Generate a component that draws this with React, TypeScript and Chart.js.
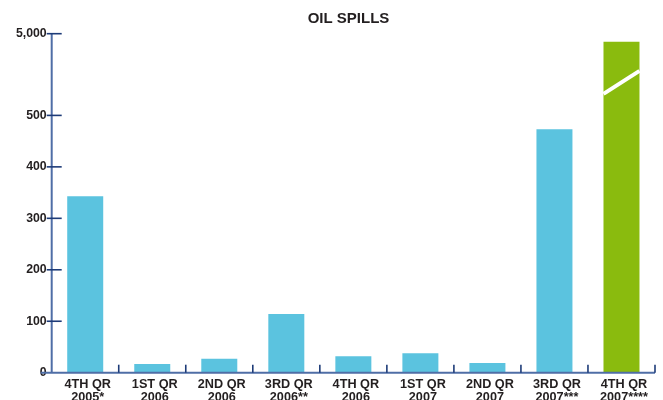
import React, { useEffect, useRef } from "react";
import { Chart, registerables, LinearScale } from "chart.js";

Chart.register(...registerables);

// ---- data ----
const CATEGORIES: string[][] = [
  ["4TH QR", "2005*"],
  ["1ST QR", "2006"],
  ["2ND QR", "2006"],
  ["3RD QR", "2006**"],
  ["4TH QR", "2006"],
  ["1ST QR", "2007"],
  ["2ND QR", "2007"],
  ["3RD QR", "2007***"],
  ["4TH QR", "2007****"],
];
const SPILLS: number[] = [343, 17, 27, 114, 32, 38, 19, 473, 4550];
const Y_TICKS: number[] = [0, 100, 200, 300, 400, 500, 5000];
const TITLE = "OIL SPILLS";

// broken axis configuration
const BREAK_VALUE = 500;
const MAX_VALUE = 5000;
const LOWER_FRACTION = 0.759;

const AXIS_COLOR = "#4f6ea6";
const TICK_COLOR = "#1d3b78";
const TEXT_COLOR = "#231f20";
const BAR_COLOR = "#5bc3df";
const HIGHLIGHT_COLOR = "#8abb0e";
const FONT = "'Liberation Sans', Arial, sans-serif";

class BrokenLinearScale extends LinearScale {
  static id = "brokenLinear";
  static defaults = LinearScale.defaults;

  buildTicks() {
    return Y_TICKS.map((value) => ({ value }));
  }

  getPixelForValue(value: number) {
    const v = +value;
    const frac =
      v <= BREAK_VALUE
        ? (v / BREAK_VALUE) * LOWER_FRACTION
        : LOWER_FRACTION +
          ((v - BREAK_VALUE) / (MAX_VALUE - BREAK_VALUE)) * (1 - LOWER_FRACTION);
    return (this as any).getPixelForDecimal(frac);
  }

  getValueForPixel(pixel: number) {
    const d = (this as any).getDecimalForPixel(pixel);
    if (d <= LOWER_FRACTION) return (d / LOWER_FRACTION) * BREAK_VALUE;
    return (
      BREAK_VALUE +
      ((d - LOWER_FRACTION) / (1 - LOWER_FRACTION)) * (MAX_VALUE - BREAK_VALUE)
    );
  }
}
Chart.register(BrokenLinearScale as any);

const decorPlugin = {
  id: "decor",
  afterDatasetsDraw(chart: any) {
    const { ctx, chartArea, scales } = chart;
    const x = scales.x;
    const y = scales.y;
    ctx.save();

    // break mark on the tall bar
    const meta = chart.getDatasetMeta(0);
    const last = meta.data[meta.data.length - 1];
    if (last) {
      const half = last.width / 2;
      ctx.strokeStyle = "#ffffff";
      ctx.lineWidth = 4;
      ctx.beginPath();
      ctx.moveTo(last.x - half, last.y + 52);
      ctx.lineTo(last.x + half, last.y + 29);
      ctx.stroke();
    }

    // axes
    ctx.strokeStyle = AXIS_COLOR;
    ctx.lineWidth = 2;
    ctx.beginPath();
    ctx.moveTo(chartArea.left, y.getPixelForValue(MAX_VALUE) - 0.5);
    ctx.lineTo(chartArea.left, chartArea.bottom);
    ctx.stroke();
    ctx.beginPath();
    ctx.moveTo(chartArea.left - 11, chartArea.bottom);
    ctx.lineTo(chartArea.right, chartArea.bottom);
    ctx.stroke();

    // y ticks
    ctx.strokeStyle = TICK_COLOR;
    ctx.lineWidth = 1.6;
    y.ticks.forEach((t: any, i: number) => {
      if (t.value === 0) return;
      const py = y.getPixelForTick(i);
      ctx.beginPath();
      ctx.moveTo(chartArea.left - 5, py);
      ctx.lineTo(chartArea.left + 10, py);
      ctx.stroke();
    });

    // x ticks at category boundaries
    const step = (chartArea.right - chartArea.left) / CATEGORIES.length;
    for (let i = 1; i <= CATEGORIES.length; i++) {
      const px = x.getPixelForValue(i - 1) + step / 2;
      ctx.beginPath();
      ctx.moveTo(px, chartArea.bottom - 8);
      ctx.lineTo(px, chartArea.bottom);
      ctx.stroke();
    }

    // title
    ctx.fillStyle = TEXT_COLOR;
    ctx.font = `bold 15px ${FONT}`;
    ctx.textAlign = "center";
    ctx.textBaseline = "middle";
    ctx.fillText(TITLE, 348.5, 19);
    ctx.restore();
  },
};

export default function App() {
  const ref = useRef<HTMLCanvasElement | null>(null);

  useEffect(() => {
    document.body.style.margin = "0";
    if (!ref.current) return;
    const chart = new Chart(ref.current, {
      type: "bar",
      data: {
        labels: CATEGORIES,
        datasets: [
          {
            data: SPILLS,
            backgroundColor: (c: any) =>
              c.dataIndex === SPILLS.length - 1 ? HIGHLIGHT_COLOR : BAR_COLOR,
            borderWidth: 0,
            barPercentage: 0.537,
            categoryPercentage: 1,
          },
        ],
      },
      options: {
        animation: false,
        responsive: true,
        maintainAspectRatio: false,
        layout: { padding: { top: 33.7, right: 8, left: 0, bottom: 0 } },
        plugins: {
          legend: { display: false },
          title: { display: false },
          tooltip: { enabled: false },
        },
        scales: {
          x: {
            grid: { display: false, drawTicks: false },
            border: { display: false },
            ticks: {
              color: TEXT_COLOR,
              font: { family: FONT, size: 12.7, weight: "bold", lineHeight: 1.0 },
              padding: 5.5,
              labelOffset: 2.5,
              maxRotation: 0,
              autoSkip: false,
            },
            afterFit: (s: any) => {
              s.height = 27.3;
            },
          },
          y: {
            type: "brokenLinear" as any,
            min: 0,
            max: MAX_VALUE,
            grid: { display: false, drawTicks: false },
            border: { display: false },
            ticks: {
              color: TEXT_COLOR,
              font: { family: FONT, size: 12.3, weight: "bold" },
              padding: 5,
              callback: (v: any) => Number(v).toLocaleString("en-US"),
            },
            afterFit: (s: any) => {
              s.width = 51.7;
            },
          },
        },
      },
      plugins: [decorPlugin],
    } as any);
    return () => chart.destroy();
  }, []);

  return (
    <div style={{ position: "relative", width: 663, height: 400 }}>
      <canvas ref={ref} />
    </div>
  );
}
